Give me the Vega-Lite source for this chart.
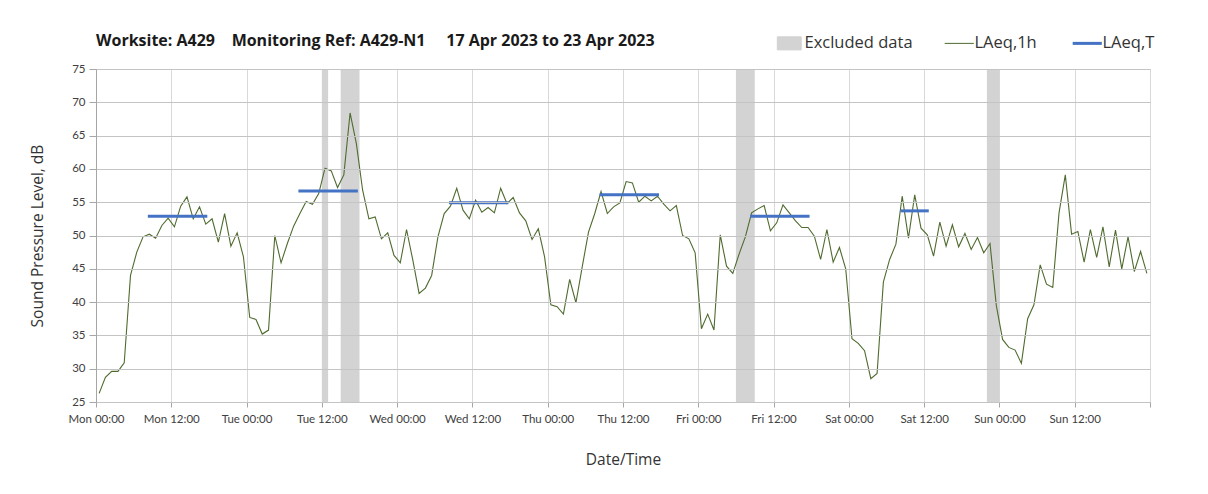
{
  "$schema": "https://vega.github.io/schema/vega-lite/v6.json",
  "width": 1054,
  "height": 333,
  "autosize": {"type": "none"},
  "padding": {"left": 96, "top": 69, "right": 58, "bottom": 92},
  "background": "white",
  "title": {
    "text": "Worksite: A429\u00a0\u00a0\u00a0\u00a0Monitoring Ref: A429-N1\u00a0\u00a0\u00a0\u00a0\u00a017 Apr 2023 to 23 Apr 2023",
    "anchor": "start",
    "frame": "group",
    "font": "Open Sans",
    "fontSize": 16,
    "fontWeight": "bold",
    "color": "#1a1a1a",
    "offset": 14,
    "dy": 28
  },
  "datasets": {
    "hourly": [
      {"hour": 0.5, "level": 26.3}, {"hour": 1.5, "level": 28.7}, {"hour": 2.5, "level": 29.6}, {"hour": 3.5, "level": 29.6},
      {"hour": 4.5, "level": 30.9}, {"hour": 5.5, "level": 44.0}, {"hour": 6.5, "level": 47.5}, {"hour": 7.5, "level": 49.8},
      {"hour": 8.5, "level": 50.2}, {"hour": 9.5, "level": 49.6}, {"hour": 10.5, "level": 51.5}, {"hour": 11.5, "level": 52.6},
      {"hour": 12.5, "level": 51.3}, {"hour": 13.5, "level": 54.4}, {"hour": 14.5, "level": 55.8}, {"hour": 15.5, "level": 52.5},
      {"hour": 16.5, "level": 54.3}, {"hour": 17.5, "level": 51.7}, {"hour": 18.5, "level": 52.5}, {"hour": 19.5, "level": 49.0},
      {"hour": 20.5, "level": 53.3}, {"hour": 21.5, "level": 48.4}, {"hour": 22.5, "level": 50.4}, {"hour": 23.5, "level": 46.8},
      {"hour": 24.5, "level": 37.7}, {"hour": 25.5, "level": 37.4}, {"hour": 26.5, "level": 35.2}, {"hour": 27.5, "level": 35.8},
      {"hour": 28.5, "level": 50.0}, {"hour": 29.5, "level": 45.9}, {"hour": 30.5, "level": 48.8}, {"hour": 31.5, "level": 51.4},
      {"hour": 32.5, "level": 53.3}, {"hour": 33.5, "level": 55.1}, {"hour": 34.5, "level": 54.7}, {"hour": 35.5, "level": 56.3},
      {"hour": 36.5, "level": 60.1}, {"hour": 37.5, "level": 59.7}, {"hour": 38.5, "level": 57.2}, {"hour": 39.5, "level": 59.1},
      {"hour": 40.5, "level": 68.4}, {"hour": 41.5, "level": 63.8}, {"hour": 42.5, "level": 56.8}, {"hour": 43.5, "level": 52.5},
      {"hour": 44.5, "level": 52.8}, {"hour": 45.5, "level": 49.5}, {"hour": 46.5, "level": 50.4}, {"hour": 47.5, "level": 47.0},
      {"hour": 48.5, "level": 45.9}, {"hour": 49.5, "level": 50.9}, {"hour": 50.5, "level": 46.3}, {"hour": 51.5, "level": 41.3},
      {"hour": 52.5, "level": 42.1}, {"hour": 53.5, "level": 44.0}, {"hour": 54.5, "level": 49.8}, {"hour": 55.5, "level": 53.3},
      {"hour": 56.5, "level": 54.4}, {"hour": 57.5, "level": 57.1}, {"hour": 58.5, "level": 53.8}, {"hour": 59.5, "level": 52.5},
      {"hour": 60.5, "level": 55.3}, {"hour": 61.5, "level": 53.5}, {"hour": 62.5, "level": 54.2}, {"hour": 63.5, "level": 53.4},
      {"hour": 64.5, "level": 57.1}, {"hour": 65.5, "level": 54.8}, {"hour": 66.5, "level": 55.7}, {"hour": 67.5, "level": 53.4},
      {"hour": 68.5, "level": 52.2}, {"hour": 69.5, "level": 49.4}, {"hour": 70.5, "level": 51.0}, {"hour": 71.5, "level": 46.8},
      {"hour": 72.5, "level": 39.6}, {"hour": 73.5, "level": 39.3}, {"hour": 74.5, "level": 38.2}, {"hour": 75.5, "level": 43.4},
      {"hour": 76.5, "level": 39.9}, {"hour": 77.5, "level": 45.3}, {"hour": 78.5, "level": 50.5}, {"hour": 79.5, "level": 53.3},
      {"hour": 80.5, "level": 56.6}, {"hour": 81.5, "level": 53.3}, {"hour": 82.5, "level": 54.3}, {"hour": 83.5, "level": 54.9},
      {"hour": 84.5, "level": 58.1}, {"hour": 85.5, "level": 57.9}, {"hour": 86.5, "level": 55.0}, {"hour": 87.5, "level": 55.9},
      {"hour": 88.5, "level": 55.2}, {"hour": 89.5, "level": 55.9}, {"hour": 90.5, "level": 54.7}, {"hour": 91.5, "level": 53.7},
      {"hour": 92.5, "level": 54.5}, {"hour": 93.5, "level": 50.0}, {"hour": 94.5, "level": 49.5}, {"hour": 95.5, "level": 47.4},
      {"hour": 96.5, "level": 36.0}, {"hour": 97.5, "level": 38.2}, {"hour": 98.5, "level": 35.8}, {"hour": 99.5, "level": 50.1},
      {"hour": 100.5, "level": 45.4}, {"hour": 101.5, "level": 44.3}, {"hour": 102.5, "level": 47.2}, {"hour": 103.5, "level": 49.8},
      {"hour": 104.5, "level": 53.4}, {"hour": 105.5, "level": 54.0}, {"hour": 106.5, "level": 54.5}, {"hour": 107.5, "level": 50.7},
      {"hour": 108.5, "level": 51.9}, {"hour": 109.5, "level": 54.6}, {"hour": 110.5, "level": 53.4}, {"hour": 111.5, "level": 52.2},
      {"hour": 112.5, "level": 51.2}, {"hour": 113.5, "level": 51.2}, {"hour": 114.5, "level": 49.9}, {"hour": 115.5, "level": 46.4},
      {"hour": 116.5, "level": 50.9}, {"hour": 117.5, "level": 46.0}, {"hour": 118.5, "level": 48.2}, {"hour": 119.5, "level": 45.0},
      {"hour": 120.5, "level": 34.5}, {"hour": 121.5, "level": 33.8}, {"hour": 122.5, "level": 32.7}, {"hour": 123.5, "level": 28.5},
      {"hour": 124.5, "level": 29.3}, {"hour": 125.5, "level": 43.0}, {"hour": 126.5, "level": 46.4}, {"hour": 127.5, "level": 48.7},
      {"hour": 128.5, "level": 55.9}, {"hour": 129.5, "level": 49.6}, {"hour": 130.5, "level": 56.1}, {"hour": 131.5, "level": 51.1},
      {"hour": 132.5, "level": 50.1}, {"hour": 133.5, "level": 46.9}, {"hour": 134.5, "level": 52.0}, {"hour": 135.5, "level": 48.4},
      {"hour": 136.5, "level": 51.6}, {"hour": 137.5, "level": 48.3}, {"hour": 138.5, "level": 50.3}, {"hour": 139.5, "level": 47.9},
      {"hour": 140.5, "level": 49.7}, {"hour": 141.5, "level": 47.4}, {"hour": 142.5, "level": 48.8}, {"hour": 143.5, "level": 39.5},
      {"hour": 144.5, "level": 34.4}, {"hour": 145.5, "level": 33.2}, {"hour": 146.5, "level": 32.8}, {"hour": 147.5, "level": 30.8},
      {"hour": 148.5, "level": 37.5}, {"hour": 149.5, "level": 39.6}, {"hour": 150.5, "level": 45.6}, {"hour": 151.5, "level": 42.7},
      {"hour": 152.5, "level": 42.2}, {"hour": 153.5, "level": 53.4}, {"hour": 154.5, "level": 59.1}, {"hour": 155.5, "level": 50.2},
      {"hour": 156.5, "level": 50.6}, {"hour": 157.5, "level": 46.0}, {"hour": 158.5, "level": 50.9}, {"hour": 159.5, "level": 46.7},
      {"hour": 160.5, "level": 51.3}, {"hour": 161.5, "level": 45.3}, {"hour": 162.5, "level": 50.8}, {"hour": 163.5, "level": 45.0},
      {"hour": 164.5, "level": 49.8}, {"hour": 165.5, "level": 44.6}, {"hour": 166.5, "level": 47.6}, {"hour": 167.5, "level": 44.3}
    ],
    "excluded": [
      {"start": 36, "end": 37}, {"start": 39, "end": 42}, {"start": 102, "end": 105}, {"start": 142, "end": 144}
    ],
    "period": [
      {"start": 8.5, "end": 17.5, "level": 52.9},
      {"start": 32.5, "end": 41.5, "level": 56.7},
      {"start": 56.5, "end": 65.5, "level": 54.9},
      {"start": 80.5, "end": 89.5, "level": 56.1},
      {"start": 104.5, "end": 113.5, "level": 52.9},
      {"start": 128.5, "end": 132.5, "level": 53.7}
    ]
  },
  "layer": [
    {
      "data": {"name": "excluded"},
      "mark": {"type": "rect", "color": "#d3d3d3"},
      "encoding": {
        "x": {
          "field": "start", "type": "quantitative",
          "scale": {"domain": [0, 168], "nice": false, "zero": false},
          "axis": {
            "title": "Date/Time",
            "values": [0, 12, 24, 36, 48, 60, 72, 84, 96, 108, 120, 132, 144, 156, 168],
            "tickCount": 40,
            "labelExpr": "datum.value >= 168 ? '' : ['Mon','Tue','Wed','Thu','Fri','Sat','Sun'][floor(datum.value / 24)] + (datum.value % 24 == 0 ? ' 00:00' : ' 12:00')",
            "grid": true,
            "gridColor": "#d9d9d9",
            "gridWidth": 1,
            "domainColor": "#a6a6a6",
            "tickColor": "#a6a6a6",
            "tickSize": 5,
            "labelPadding": 6,
            "labelFont": "Lato",
            "labelFontSize": 11.5,
            "labelColor": "#404040",
            "labelOverlap": false,
            "labelBound": false,
            "labelFlush": false,
            "titleFont": "Open Sans",
            "titleFontSize": 15.5,
            "titleFontWeight": "normal",
            "titleColor": "#333333",
            "titlePadding": 28,
            "encode": {
              "grid": {"update": {"strokeOpacity": {"signal": "datum.value % 24 == 0 ? 1 : 0"}}}
            }
          }
        },
        "x2": {"field": "end"},
        "color": {
          "datum": "Excluded data",
          "type": "nominal",
          "scale": {"domain": ["Excluded data", "LAeq,1h", "LAeq,T"], "range": ["#d3d3d3", "#4f6b2f", "#4472c4"]},
          "legend": {
            "title": null,
            "orient": "none",
            "direction": "horizontal",
            "legendX": 685,
            "legendY": -34,
            "symbolSize": 850,
            "labelOffset": 7,
            "columnPadding": 29,
            "labelFont": "Open Sans",
            "labelFontSize": 16.5,
            "labelColor": "#333333",
            "encode": {
              "symbols": {
                "update": {
                  "shape": {"signal": "datum.value === 'Excluded data' ? 'M-0.82,-0.45H0.82V0.45H-0.82Z' : 'stroke'"},
                  "fill": {"signal": "datum.value === 'Excluded data' ? '#d3d3d3' : 'transparent'"},
                  "stroke": {"signal": "datum.value === 'LAeq,T' ? '#4472c4' : (datum.value === 'LAeq,1h' ? '#4f6b2f' : 'transparent')"},
                  "strokeWidth": {"signal": "datum.value === 'LAeq,T' ? 3 : 1"},
                  "opacity": {"value": 1}
                }
              }
            }
          }
        }
      }
    },
    {
      "data": {"name": "hourly"},
      "mark": {"type": "line", "strokeWidth": 1.1, "interpolate": "linear"},
      "encoding": {
        "x": {"field": "hour", "type": "quantitative"},
        "y": {
          "field": "level", "type": "quantitative",
          "scale": {"domain": [25, 75], "nice": false, "zero": false},
          "axis": {
            "title": "Sound Pressure Level, dB",
            "values": [25, 30, 35, 40, 45, 50, 55, 60, 65, 70, 75],
            "tickCount": 20,
            "labelOverlap": false,
            "grid": true,
            "gridColor": "#c4c4c4",
            "gridWidth": 1,
            "zindex": 1,
            "domainColor": "#a6a6a6",
            "tickColor": "#a6a6a6",
            "tickSize": 7,
            "labelPadding": 4,
            "labelFont": "Lato",
            "labelFontSize": 11.5,
            "labelColor": "#404040",
            "titleFont": "Open Sans",
            "titleFontSize": 15.5,
            "titleFontWeight": "normal",
            "titleColor": "#333333",
            "titlePadding": 26
          }
        },
        "color": {"datum": "LAeq,1h", "type": "nominal"}
      }
    },
    {
      "data": {"name": "period"},
      "mark": {"type": "rule", "strokeWidth": 3, "strokeCap": "square"},
      "encoding": {
        "x": {"field": "start", "type": "quantitative"},
        "x2": {"field": "end"},
        "y": {"field": "level", "type": "quantitative"},
        "color": {"datum": "LAeq,T", "type": "nominal"}
      }
    }
  ],
  "config": {
    "view": {"stroke": "#bfbfbf", "strokeWidth": 1},
    "font": "Lato"
  }
}
